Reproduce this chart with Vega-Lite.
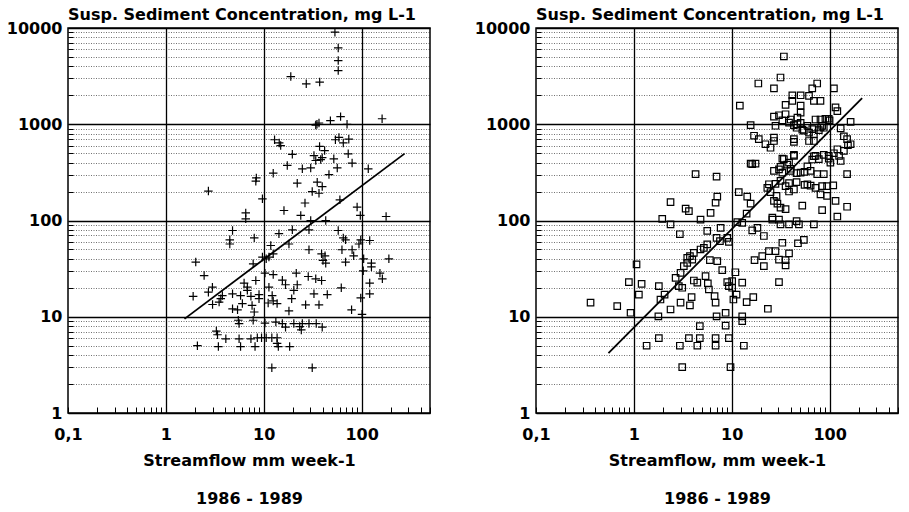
{
  "$schema": "https://vega.github.io/schema/vega-lite/v6.json",
  "background": "white",
  "padding": {"left": 5, "top": 6, "right": 5, "bottom": 5},
  "datasets": {
    "left": [
      {"x":53.4,"y":9040},{"x":57.7,"y":6210},{"x":57.7,"y":4590},{"x":57.7,"y":3610},{"x":18.9,"y":3130},{"x":27.2,"y":2630},{"x":37.3,"y":2740},
      {"x":61,"y":1200},{"x":48,"y":1090},{"x":36.7,"y":1030},{"x":34,"y":980},{"x":35,"y":1000},{"x":71,"y":1000},{"x":162,"y":1140},{"x":12.9,"y":690},{"x":14.9,"y":600},{"x":14.4,"y":640},{"x":19.6,"y":487},{"x":17.4,"y":373},{"x":12.5,"y":310},{"x":8.4,"y":277},{"x":8.3,"y":256},{"x":2.72,"y":202},{"x":9.7,"y":168},{"x":6.55,"y":120},{"x":6.55,"y":104},{"x":16.1,"y":127},{"x":22,"y":244},{"x":26.4,"y":152},{"x":23.9,"y":113},{"x":24.8,"y":344},{"x":30.2,"y":352},{"x":32.6,"y":473},{"x":34,"y":420},{"x":38.2,"y":430},{"x":39.6,"y":450},{"x":37.2,"y":588},{"x":41.9,"y":533},{"x":52,"y":437},{"x":56.4,"y":352},{"x":80,"y":395},{"x":73,"y":493},{"x":54,"y":690},{"x":58.7,"y":730},{"x":65,"y":640},{"x":74,"y":700},{"x":46.4,"y":300},{"x":35.2,"y":250},{"x":39.6,"y":225},{"x":31.3,"y":200},{"x":36.7,"y":192},{"x":60,"y":164},{"x":90,"y":138},{"x":97,"y":113},{"x":178,"y":110},{"x":117,"y":344},{"x":43,"y":100},{"x":30.2,"y":100},
      {"x":4.8,"y":78.7},{"x":4.5,"y":63},{"x":4.5,"y":57},{"x":8,"y":66},{"x":14.3,"y":73},{"x":19.6,"y":80},{"x":18.1,"y":57},{"x":11.8,"y":55},{"x":12.5,"y":45},{"x":11.3,"y":41.7},{"x":10.6,"y":40},{"x":29,"y":80},{"x":57.7,"y":78.7},{"x":65,"y":66},{"x":68.6,"y":63},{"x":98,"y":63},{"x":94,"y":57},{"x":121,"y":62},{"x":63,"y":49.7},{"x":80,"y":49.7},{"x":83,"y":43},{"x":105,"y":40},{"x":190,"y":40},{"x":126,"y":36},{"x":126,"y":33},{"x":104,"y":30},{"x":154,"y":28.4},{"x":163,"y":24.8},{"x":121,"y":22.4},{"x":121,"y":17.3},{"x":98,"y":15.7},{"x":101,"y":10.6},{"x":79,"y":11.8},{"x":29,"y":49.7},{"x":39,"y":45},{"x":42.3,"y":43},{"x":40.3,"y":38.5},{"x":43,"y":36},{"x":68.6,"y":37},{"x":34,"y":24.8},{"x":39,"y":23.8},{"x":28.5,"y":26.2},{"x":21.5,"y":28.4},{"x":22,"y":21.5},{"x":20.3,"y":18.8},{"x":19.3,"y":15.4},{"x":18.1,"y":11.5},{"x":15.5,"y":24},{"x":16.7,"y":21.5},{"x":12.5,"y":27.4},{"x":11.3,"y":20.3},{"x":12.2,"y":16.6},{"x":12.5,"y":14.6},{"x":13.7,"y":13.7},{"x":11.1,"y":13.9},{"x":8.95,"y":15.4},{"x":8.95,"y":17},{"x":7.4,"y":16.3},{"x":6.8,"y":20.3},{"x":8.3,"y":23.8},{"x":6.3,"y":22.4},{"x":6.8,"y":18.8},{"x":5.8,"y":16.6},{"x":6.05,"y":13.7},{"x":4.8,"y":17.3},{"x":4.8,"y":12.1},{"x":5.4,"y":11.8},{"x":7.6,"y":13.1},{"x":8,"y":11.2},{"x":2.99,"y":20.3},{"x":2.72,"y":18},{"x":1.9,"y":16.3},{"x":3,"y":13.4},{"x":3.64,"y":15.4},{"x":3.78,"y":16.6},{"x":3.5,"y":14.2},{"x":2.46,"y":26.8},{"x":2.02,"y":37},{"x":26.8,"y":13.3},{"x":36.7,"y":13.3},{"x":44.6,"y":17},{"x":32.6,"y":17.3},{"x":62,"y":20},{"x":7.8,"y":35.5},{"x":9.7,"y":41.7},{"x":10.3,"y":28.4},
      {"x":5.5,"y":9.2},{"x":5.6,"y":8.5},{"x":7.8,"y":9.2},{"x":10.3,"y":8.6},{"x":13.3,"y":8.8},{"x":15.5,"y":8.5},{"x":16.7,"y":7.8},{"x":20.3,"y":8.5},{"x":23.3,"y":7.9},{"x":24.2,"y":7.3},{"x":24.8,"y":8.5},{"x":29,"y":8.5},{"x":34.4,"y":8.5},{"x":39.6,"y":7.8},{"x":3.28,"y":7.1},{"x":3.37,"y":6.5},{"x":4.1,"y":5.9},{"x":5.6,"y":5.9},{"x":7.4,"y":5.9},{"x":8.6,"y":6.05},{"x":9.5,"y":6.05},{"x":10.6,"y":6.05},{"x":12.1,"y":6.05},{"x":13.7,"y":6.05},{"x":13.7,"y":5.3},{"x":2.1,"y":5},{"x":3.44,"y":4.9},{"x":5.8,"y":4.9},{"x":8.15,"y":4.9},{"x":14.1,"y":4.9},{"x":18.4,"y":4.9},{"x":12.1,"y":2.95},{"x":31.3,"y":2.95}
    ],
    "right": [
      {"x":34.1,"y":5060},{"x":31.5,"y":3060},{"x":18.7,"y":2650},{"x":27.0,"y":2360},{"x":74.7,"y":2650},{"x":66.5,"y":2360},{"x":110.7,"y":2360},{"x":12.1,"y":1560},{"x":41.6,"y":2000},{"x":50.6,"y":2000},{"x":69.1,"y":1750},{"x":80.7,"y":1750},{"x":35.5,"y":1590},{"x":50.6,"y":1560},{"x":50.6,"y":1320},{"x":115,"y":1495},{"x":120,"y":1370},{"x":61.6,"y":1975},{"x":27.0,"y":1200},{"x":30.4,"y":1240},{"x":35.5,"y":1270},{"x":40.0,"y":1120},{"x":15.6,"y":980},{"x":28.0,"y":965},{"x":46.9,"y":1170},{"x":50.6,"y":1035},{"x":71.8,"y":1120},{"x":80.7,"y":1120},{"x":90.6,"y":1140},{"x":98.0,"y":1140},{"x":164,"y":1060},{"x":129.8,"y":905},{"x":16.9,"y":760},{"x":18.9,"y":700},{"x":22.1,"y":620},{"x":27.0,"y":670},{"x":27.0,"y":725},{"x":24.9,"y":570},{"x":43.2,"y":655},{"x":59.3,"y":965},{"x":66.5,"y":890},{"x":54.6,"y":860},{"x":61.6,"y":820},{"x":69.1,"y":790},{"x":80.7,"y":925},{"x":151,"y":700},{"x":164,"y":620},{"x":140,"y":530},{"x":125,"y":470},{"x":129.8,"y":415},{"x":98.0,"y":470},{"x":71.8,"y":470},{"x":77.6,"y":435},{"x":34.1,"y":435},{"x":38.5,"y":400},{"x":32.9,"y":315},{"x":40.0,"y":328},{"x":43.2,"y":470},{"x":15.6,"y":390},{"x":17.5,"y":390},{"x":27.0,"y":328},{"x":30.4,"y":340},{"x":50.6,"y":315},{"x":64.0,"y":328},{"x":74.7,"y":303},{"x":87.2,"y":303},{"x":151,"y":303},{"x":4.27,"y":303},{"x":7.0,"y":286},{"x":23.1,"y":218},{"x":31.5,"y":258},{"x":35.5,"y":228},{"x":38.5,"y":200},{"x":43.2,"y":210},{"x":59.3,"y":238},{"x":71.8,"y":218},{"x":83.9,"y":228},{"x":94.2,"y":228},{"x":109,"y":232},{"x":11.8,"y":197},{"x":14.4,"y":177},{"x":15.6,"y":150},{"x":24.9,"y":197},{"x":28.7,"y":180},{"x":80.7,"y":187},{"x":94.2,"y":180},{"x":115,"y":160},{"x":29.3,"y":150},{"x":31.5,"y":136},{"x":35.5,"y":131},{"x":52.6,"y":143},{"x":83.9,"y":128},{"x":120,"y":110},{"x":151,"y":139},{"x":2.37,"y":155},{"x":3.38,"y":133},{"x":3.65,"y":125},{"x":6.08,"y":120},{"x":6.84,"y":153},{"x":7.12,"y":177},{"x":4.8,"y":102},{"x":1.95,"y":104},{"x":11.4,"y":96},{"x":12.8,"y":94.6},{"x":26.0,"y":107},
      {"x":41.6,"y":1750},{"x":32.9,"y":1100},{"x":38.5,"y":1040},{"x":43.2,"y":980},{"x":46.0,"y":920},{"x":52.6,"y":880},{"x":46.9,"y":1000},{"x":77.6,"y":870},{"x":87.2,"y":920},{"x":83.9,"y":960},{"x":140,"y":750},{"x":154,"y":605},{"x":120,"y":550},{"x":100,"y":1100},{"x":69.1,"y":670},{"x":61.6,"y":670},{"x":43.2,"y":700},{"x":32.9,"y":440},{"x":43.2,"y":480},{"x":69.1,"y":465},{"x":110.7,"y":500},{"x":16.2,"y":384},{"x":36.9,"y":380},{"x":31.5,"y":360},{"x":40.0,"y":345},{"x":46.0,"y":310},{"x":55.5,"y":320},{"x":59.3,"y":365},{"x":66.5,"y":430},{"x":87.2,"y":480},{"x":98.0,"y":440},{"x":101.9,"y":400},{"x":24.0,"y":238},{"x":28.0,"y":240},{"x":38.5,"y":245},{"x":46.0,"y":250},{"x":55.5,"y":235},{"x":64.0,"y":230},{"x":27.0,"y":160},{"x":26.0,"y":102},{"x":30.4,"y":102},{"x":46.0,"y":98.5},{"x":14.2,"y":118},{"x":16.2,"y":79},
      {"x":2.37,"y":91},{"x":7.7,"y":84},{"x":2.95,"y":72},{"x":5.62,"y":78},{"x":7.0,"y":66},{"x":7.58,"y":61},{"x":9.0,"y":66},{"x":9.35,"y":60},{"x":5.62,"y":56.4},{"x":5.19,"y":52},{"x":4.8,"y":50},{"x":4.1,"y":46},{"x":3.74,"y":42.6},{"x":3.51,"y":41},{"x":3.95,"y":39.3},{"x":3.51,"y":36.3},{"x":3.24,"y":33.5},{"x":3.0,"y":28.6},{"x":2.67,"y":25.4},{"x":2.88,"y":20.8},{"x":3.12,"y":20},{"x":2.06,"y":17},{"x":1.87,"y":15.1},{"x":1.8,"y":20.8},{"x":1.2,"y":22},{"x":1.125,"y":17},{"x":1.065,"y":35},{"x":0.925,"y":11},{"x":0.889,"y":22.9},{"x":0.676,"y":12.9},{"x":0.361,"y":14},{"x":2.37,"y":11.9},{"x":1.78,"y":10.1},{"x":3.0,"y":14},{"x":3.74,"y":13.1},{"x":3.89,"y":16},{"x":4.1,"y":23.8},{"x":4.45,"y":22.6},{"x":4.72,"y":8},{"x":5.4,"y":26.4},{"x":5.7,"y":22.2},{"x":5.84,"y":19.2},{"x":5.98,"y":38.7},{"x":7.12,"y":37.9},{"x":8.0,"y":30.5},{"x":6.68,"y":16.4},{"x":6.84,"y":14},{"x":9.0,"y":22.9},{"x":9.35,"y":20.8},{"x":10.1,"y":23.5},{"x":10.1,"y":20},{"x":10.9,"y":29},{"x":10.4,"y":15.1},{"x":11.2,"y":17},{"x":12.8,"y":22.6},{"x":14.2,"y":14.2},{"x":16.6,"y":16},{"x":17.1,"y":38.7},{"x":21.3,"y":33.5},{"x":20.5,"y":42.6},{"x":24.0,"y":48},{"x":28.0,"y":48},{"x":32.9,"y":58.7},{"x":30.4,"y":39.3},{"x":35.5,"y":38.7},{"x":35.5,"y":34.1},{"x":38.5,"y":45.6},{"x":30.4,"y":22.9},{"x":23.4,"y":12.1},{"x":47.5,"y":58},{"x":54.6,"y":63},{"x":7.0,"y":10.1},{"x":8.66,"y":8.1},{"x":8.66,"y":11},{"x":12.8,"y":9},{"x":12.8,"y":10.1},{"x":9.35,"y":6},{"x":6.84,"y":6},{"x":6.84,"y":5},{"x":4.72,"y":6},{"x":4.45,"y":5},{"x":3.65,"y":6},{"x":2.95,"y":5},{"x":3.12,"y":3},{"x":1.8,"y":6},{"x":1.35,"y":5},{"x":13.3,"y":5},{"x":9.72,"y":3},{"x":18.3,"y":84},{"x":21.3,"y":69},{"x":31.5,"y":91},{"x":38.5,"y":91},{"x":48.6,"y":91},{"x":69.1,"y":91}
    ],
    "leftLine": [{"x":1.55,"y":9.5},{"x":275,"y":495}],
    "rightLine": [{"x":0.55,"y":4.2},{"x":215,"y":1870}]
  },
  "config": {
    "font": "DejaVu Sans",
    "view": {"stroke": "black", "strokeWidth": 1.5},
    "concat": {"spacing": 106},
    "axis": {
      "domain": false,
      "labelFont": "DejaVu Sans",
      "labelFontSize": 16,
      "labelFontWeight": "bold",
      "labelColor": "black",
      "titleFont": "DejaVu Sans",
      "titleFontSize": 16,
      "titleFontWeight": "bold",
      "titleColor": "black",
      "tickColor": "black",
      "labelOverlap": false,
      "labelFlush": false
    },
    "title": {"font": "DejaVu Sans", "fontSize": 16, "fontWeight": "bold", "color": "black"}
  },
  "bounds": "flush",
  "hconcat": [
    {
      "width": 362, "height": 385,
      "title": {"text": "Susp. Sediment Concentration, mg L-1", "anchor": "start", "frame": "group", "offset": -3},
      "layer": [
        {
          "data": {"name": "left"},
          "mark": {"type": "point", "shape": "M-1,0L1,0M0,-1L0,1", "size": 72, "filled": false, "stroke": "black", "strokeWidth": 1.2, "opacity": 1},
          "encoding": {
            "x": {"field": "x", "type": "quantitative", "scale": {"type": "log", "domain": [0.1, 500], "nice": false},
              "axis": {
                "values": [0.1,0.2,0.3,0.4,0.5,0.6,0.7,0.8,0.9,1,2,3,4,5,6,7,8,9,10,20,30,40,50,60,70,80,90,100,200,300,400,500],
                "labelExpr": "datum.value < 0.15 ? '0,1' : (abs(log(datum.value)/LN10 - round(log(datum.value)/LN10)) < 0.001 ? format(datum.value, 'd') : '')",
                "grid": true, "gridColor": "black", "gridWidth": 1.3,
                "gridOpacity": {"condition": {"test": "datum.value > 0.5 && datum.value < 200 && abs(log(datum.value)/LN10 - round(log(datum.value)/LN10)) < 0.001", "value": 1}, "value": 0},
                "tickSize": -6, "tickWidth": 1,
                "labelPadding": 19,
                "title": ["Streamflow mm week-1", "1986 - 1989"],
                "titleLineHeight": 38, "titlePadding": 10
              }},
            "y": {"field": "y", "type": "quantitative", "scale": {"type": "log", "domain": [1, 10000], "nice": false},
              "axis": {
                "values": [1,2,3,4,5,6,7,8,9,10,20,30,40,50,60,70,80,90,100,200,300,400,500,600,700,800,900,1000,2000,3000,4000,5000,6000,7000,8000,9000,10000],
                "labelExpr": "abs(log(datum.value)/LN10 - round(log(datum.value)/LN10)) < 0.001 ? format(datum.value, 'd') : ''",
                "grid": true, "gridColor": "black",
                "gridDash": {"condition": {"test": "abs(log(datum.value)/LN10 - round(log(datum.value)/LN10)) < 0.001", "value": []}, "value": [1, 1.5]},
                "gridWidth": {"condition": {"test": "abs(log(datum.value)/LN10 - round(log(datum.value)/LN10)) < 0.001", "value": 1.3}, "value": 0.8},
                "gridOpacity": {"condition": {"test": "abs(log(datum.value)/LN10 - round(log(datum.value)/LN10)) < 0.001", "value": 1}, "value": 0.7},
                "tickSize": -5, "tickWidth": 1,
                "labelPadding": 11,
                "title": null
              }}
          }
        },
        {
          "data": {"name": "leftLine"},
          "mark": {"type": "line", "color": "black", "strokeWidth": 1.8},
          "encoding": {
            "x": {"field": "x", "type": "quantitative"},
            "y": {"field": "y", "type": "quantitative"}
          }
        }
      ]
    },
    {
      "width": 362, "height": 385,
      "title": {"text": "Susp. Sediment Concentration, mg L-1", "anchor": "start", "frame": "group", "offset": -3},
      "layer": [
        {
          "data": {"name": "right"},
          "mark": {"type": "point", "shape": "square", "size": 42, "filled": false, "stroke": "black", "strokeWidth": 1.2, "opacity": 1},
          "encoding": {
            "x": {"field": "x", "type": "quantitative", "scale": {"type": "log", "domain": [0.1, 500], "nice": false},
              "axis": {
                "values": [0.1,0.2,0.3,0.4,0.5,0.6,0.7,0.8,0.9,1,2,3,4,5,6,7,8,9,10,20,30,40,50,60,70,80,90,100,200,300,400,500],
                "labelExpr": "datum.value < 0.15 ? '0,1' : (abs(log(datum.value)/LN10 - round(log(datum.value)/LN10)) < 0.001 ? format(datum.value, 'd') : '')",
                "grid": true, "gridColor": "black", "gridWidth": 1.3,
                "gridOpacity": {"condition": {"test": "datum.value > 0.5 && datum.value < 200 && abs(log(datum.value)/LN10 - round(log(datum.value)/LN10)) < 0.001", "value": 1}, "value": 0},
                "tickSize": -6, "tickWidth": 1,
                "labelPadding": 19,
                "title": ["Streamflow, mm week-1", "1986 - 1989"],
                "titleLineHeight": 38, "titlePadding": 10
              }},
            "y": {"field": "y", "type": "quantitative", "scale": {"type": "log", "domain": [1, 10000], "nice": false},
              "axis": {
                "values": [1,2,3,4,5,6,7,8,9,10,20,30,40,50,60,70,80,90,100,200,300,400,500,600,700,800,900,1000,2000,3000,4000,5000,6000,7000,8000,9000,10000],
                "labelExpr": "abs(log(datum.value)/LN10 - round(log(datum.value)/LN10)) < 0.001 ? format(datum.value, 'd') : ''",
                "grid": true, "gridColor": "black",
                "gridDash": {"condition": {"test": "abs(log(datum.value)/LN10 - round(log(datum.value)/LN10)) < 0.001", "value": []}, "value": [1, 1.5]},
                "gridWidth": {"condition": {"test": "abs(log(datum.value)/LN10 - round(log(datum.value)/LN10)) < 0.001", "value": 1.3}, "value": 0.8},
                "gridOpacity": {"condition": {"test": "abs(log(datum.value)/LN10 - round(log(datum.value)/LN10)) < 0.001", "value": 1}, "value": 0.7},
                "tickSize": -5, "tickWidth": 1,
                "labelPadding": 11,
                "title": null
              }}
          }
        },
        {
          "data": {"name": "rightLine"},
          "mark": {"type": "line", "color": "black", "strokeWidth": 1.8},
          "encoding": {
            "x": {"field": "x", "type": "quantitative"},
            "y": {"field": "y", "type": "quantitative"}
          }
        }
      ]
    }
  ]
}
